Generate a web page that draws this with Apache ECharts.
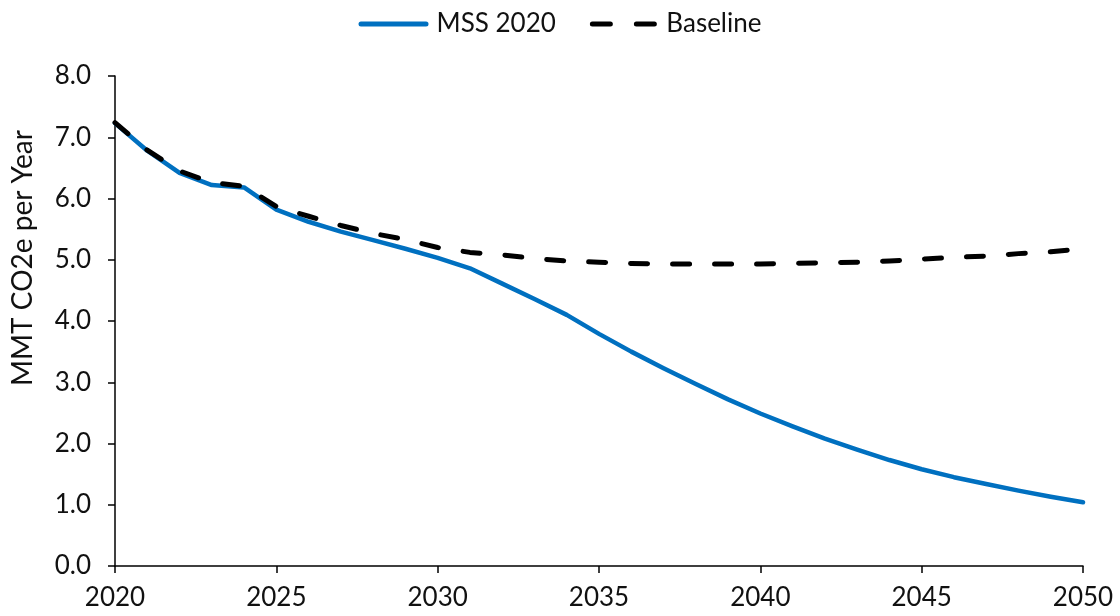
<!DOCTYPE html>
<html>
<head>
<meta charset="utf-8">
<script src="https://cdn.jsdelivr.net/npm/echarts@6/dist/echarts.min.js"></script>
<style>html,body{margin:0;padding:0;background:#fff}#c{width:1120px;height:616px}</style>
</head>
<body>
<div id="c"></div>
<script>
const years = [2020,2021,2022,2023,2024,2025,2026,2027,2028,2029,2030,2031,2032,2033,2034,2035,2036,2037,2038,2039,2040,2041,2042,2043,2044,2045,2046,2047,2048,2049,2050];
const mss2020 = [7.23,6.78,6.42,6.22,6.18,5.82,5.62,5.46,5.32,5.18,5.03,4.86,4.61,4.36,4.10,3.79,3.50,3.23,2.97,2.72,2.49,2.28,2.08,1.90,1.73,1.58,1.45,1.34,1.23,1.13,1.04];
const baseline = [7.24,6.79,6.45,6.26,6.20,5.87,5.71,5.56,5.43,5.33,5.20,5.12,5.08,5.02,4.98,4.96,4.94,4.93,4.93,4.93,4.93,4.94,4.95,4.96,4.98,5.01,5.04,5.06,5.10,5.13,5.18];
const yTicks = {min: 0, max: 8, interval: 1};
const xTicks = {min: 2020, max: 2050, interval: 5};

const font = 'Lato, "Noto Sans", sans-serif';
const fs = 26;
const solidIcon = 'path://M2.5,0h65a2.5,2.5 0 0 1 0,5h-65a2.5,2.5 0 0 1 0,-5z';
const dashIcon = 'path://M2.5,0h18a2.5,2.5 0 0 1 0,5h-18a2.5,2.5 0 0 1 0,-5z M46.5,0h18a2.5,2.5 0 0 1 0,5h-18a2.5,2.5 0 0 1 0,-5z';
const chart = echarts.init(document.getElementById('c'), null, {renderer: 'canvas'});
chart.setOption({
  animation: false,
  textStyle: {fontFamily: font},
  legend: {
    top: 6, left: 'center',
    itemWidth: 70, itemHeight: 5, itemGap: 34,
    textStyle: {fontSize: fs, color: '#111', fontFamily: font, padding: [0, 0, 0, 3]},
    itemStyle: {borderWidth: 0},
    data: [
      {name: 'MSS 2020', icon: solidIcon, itemStyle: {color: '#0070C0'}},
      {name: 'Baseline', icon: dashIcon, itemStyle: {color: '#000'}}
    ]
  },
  grid: {left: 115, right: 37, top: 76, bottom: 50, containLabel: false},
  xAxis: {
    type: 'value', min: xTicks.min, max: xTicks.max, interval: xTicks.interval,
    axisLine: {show: true, lineStyle: {color: '#000', width: 1.5}},
    axisTick: {show: true, inside: false, length: 7, lineStyle: {color: '#000', width: 1.5}},
    axisLabel: {fontSize: fs, color: '#111', margin: 19, fontFamily: font, formatter: v => String(v)},
    splitLine: {show: false}
  },
  yAxis: {
    type: 'value', min: yTicks.min, max: yTicks.max, interval: yTicks.interval,
    name: 'MMT CO2e per Year', nameLocation: 'middle', nameGap: 78, nameRotate: 90,
    nameTextStyle: {fontSize: 28, color: '#111', fontFamily: font, padding: [0, 0, 0, 126]},
    axisLine: {show: true, lineStyle: {color: '#000', width: 1.5}},
    axisTick: {show: true, inside: false, length: 7, lineStyle: {color: '#000', width: 1.5}},
    axisLabel: {fontSize: fs, color: '#111', margin: 24, fontFamily: font, formatter: v => v.toFixed(1)},
    splitLine: {show: false}
  },
  series: [
    {
      name: 'MSS 2020', type: 'line', smooth: false, symbol: 'none', z: 2,
      data: years.map((y, i) => [y, mss2020[i]]),
      lineStyle: {color: '#0070C0', width: 4.5, cap: 'round', join: 'round'},
      itemStyle: {color: '#0070C0'}
    },
    {
      name: 'Baseline', type: 'line', smooth: false, symbol: 'none', z: 3,
      data: years.map((y, i) => [y, baseline[i]]),
      lineStyle: {color: '#000', width: 5, type: [17, 25], cap: 'round', join: 'round'},
      itemStyle: {color: '#000'}
    }
  ]
});
</script>
</body>
</html>
